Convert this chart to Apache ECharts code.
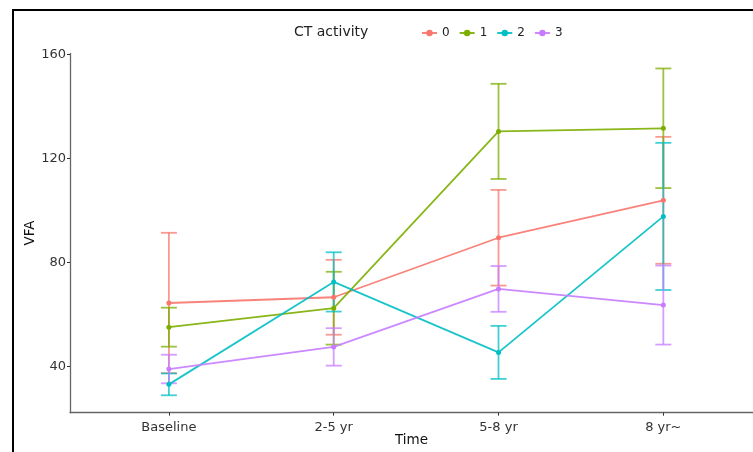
<!DOCTYPE html>
<html>
<head>
<meta charset="utf-8">
<script src="https://cdn.jsdelivr.net/npm/echarts@6/dist/echarts.min.js"></script>
<style>
html,body{margin:0;padding:0;background:#fff;}
#c{width:753px;height:452px;}
</style>
</head>
<body>
<div id="c"></div>
<script>
var categories = ['Baseline', '2-5 yr', '5-8 yr', '8 yr~'];
var groupNames = ['0', '1', '2', '3'];
var yTicks = [40, 80, 120, 160];

var mean0 = [64.5, 66.7, 89.6, 104.0];
var err0  = [27.0, 14.4, 18.4, 24.4];
var mean1 = [55.2, 62.5, 130.5, 131.7];
var err1  = [7.5, 14.0, 18.3, 23.0];
var mean2 = [33.2, 72.6, 45.5, 97.8];
var err2  = [4.2, 11.4, 10.2, 28.3];
var mean3 = [39.1, 47.6, 69.9, 63.7];
var err3  = [5.5, 7.2, 8.8, 15.2];

var colors = ['#F8766D', '#7CAE00', '#00BFC4', '#C77CFF'];
var means = [mean0, mean1, mean2, mean3];
var errs = [err0, err1, err2, err3];

var FONT = 'DejaVu Sans';
var series = [];
groupNames.forEach(function (g, k) {
  var ebData = means[k].map(function (m, i) { return [i, m - errs[k][i], m + errs[k][i]]; });
  series.push({
    type: 'custom',
    name: 'eb' + g,
    data: ebData,
    z: 2,
    renderItem: function (params, api) {
      var x = api.value(0);
      var top = api.coord([x, api.value(2)]);
      var bot = api.coord([x, api.value(1)]);
      var hw = 8;
      var st = { stroke: colors[k], lineWidth: 1.8, opacity: 0.75 };
      return {
        type: 'group',
        children: [
          { type: 'line', shape: { x1: top[0], y1: top[1], x2: bot[0], y2: bot[1] }, style: st },
          { type: 'line', shape: { x1: top[0] - hw, y1: top[1], x2: top[0] + hw, y2: top[1] }, style: st },
          { type: 'line', shape: { x1: bot[0] - hw, y1: bot[1], x2: bot[0] + hw, y2: bot[1] }, style: st }
        ]
      };
    }
  });
});
groupNames.forEach(function (g, k) {
  series.push({
    type: 'line',
    name: g,
    data: means[k].map(function (m, i) { return [i, m]; }),
    symbol: 'circle',
    symbolSize: 5,
    showSymbol: true,
    z: 3,
    itemStyle: { color: colors[k] },
    lineStyle: { color: colors[k], width: 1.8, opacity: 0.9 },
    emphasis: { disabled: true },
    animation: false
  });
});

var chart = echarts.init(document.getElementById('c'), null, { renderer: 'canvas' });
chart.setOption({
  animation: false,
  backgroundColor: '#fff',
  color: colors,
  title: {
    text: 'CT activity',
    left: 289,
    top: 20,
    textStyle: { fontFamily: FONT, fontSize: 14, fontWeight: 'normal', color: '#222' }
  },
  legend: {
    data: groupNames,
    left: 416,
    top: 22,
    itemWidth: 15,
    itemHeight: 8,
    itemGap: 9,
    textStyle: { fontFamily: FONT, fontSize: 12, color: '#222' }
  },
  graphic: [{
    type: 'rect',
    shape: { x: 13, y: 10, width: 800, height: 500 },
    style: { fill: 'none', stroke: '#000', lineWidth: 2 },
    silent: true
  }],
  grid: {
    left: 70, right: 0, top: 53.4, bottom: 39.3,
    containLabel: false,
    outerBoundsMode: 'none'
  },
  xAxis: {
    type: 'value',
    min: -0.6,
    max: 3.544,
    name: 'Time',
    nameLocation: 'middle',
    nameGap: 21,
    nameMoveOverlap: false,
    nameTextStyle: { fontFamily: FONT, fontSize: 13.5, color: '#111' },
    axisLine: { show: true, onZero: false, lineStyle: { color: '#666', width: 1.3 } },
    axisTick: { show: true, length: 3, customValues: [0, 1, 2, 3], lineStyle: { color: '#333' } },
    axisLabel: {
      customValues: [0, 1, 2, 3],
      formatter: function (v) { return categories[Math.round(v)]; },
      fontFamily: FONT, fontSize: 13, color: '#333', margin: 8
    },
    splitLine: { show: false }
  },
  yAxis: {
    type: 'value',
    min: 22.3,
    max: 160.5,
    name: 'VFA',
    nameLocation: 'middle',
    nameGap: 33,
    nameMoveOverlap: false,
    nameRotate: 90,
    nameTextStyle: { fontFamily: FONT, fontSize: 13.5, color: '#111' },
    axisLine: { show: true, onZero: false, lineStyle: { color: '#666', width: 1.3 } },
    axisTick: { show: true, length: 3, customValues: yTicks, lineStyle: { color: '#333' } },
    axisLabel: {
      customValues: yTicks,
      fontFamily: FONT, fontSize: 13, color: '#333', margin: 4
    },
    splitLine: { show: false }
  },
  series: series
});
</script>
</body>
</html>
